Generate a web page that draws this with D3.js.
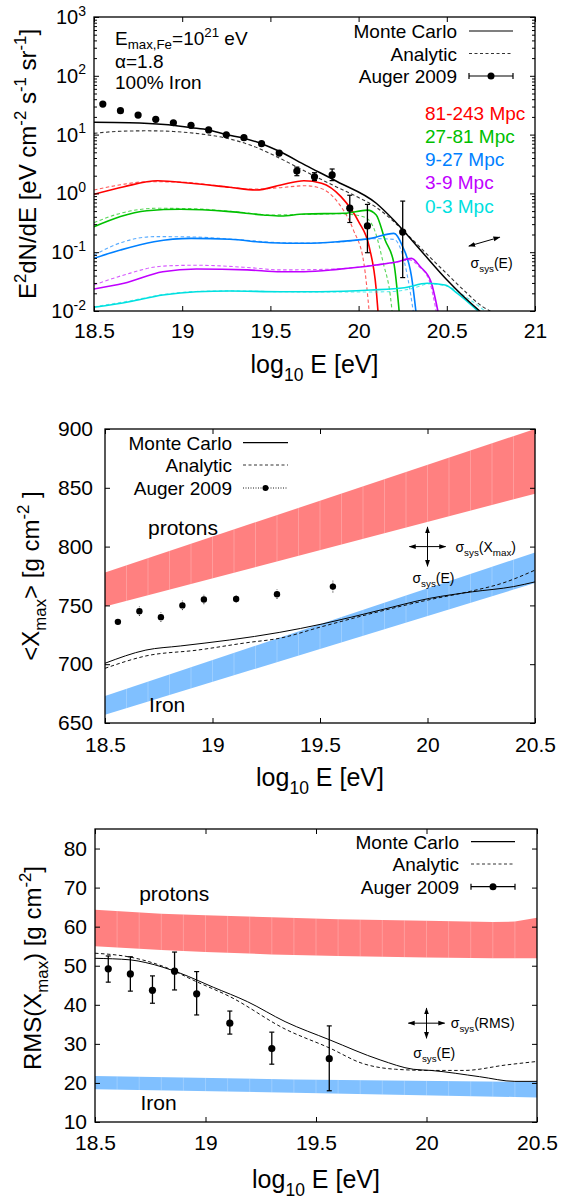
<!DOCTYPE html>
<html>
<head>
<meta charset="utf-8">
<script src="https://cdn.jsdelivr.net/npm/d3@7"></script>
<style>
  body { margin: 0; background: #fff; }
  svg text { font-family: "Liberation Sans", Arial, Helvetica, sans-serif; white-space: pre; fill: #000; }
</style>
</head>
<body>
<svg id="chart" width="561" height="1201"></svg>
<script>
// ===================== spectrum panel =====================
const specTicksX = [18.5, 19, 19.5, 20, 20.5, 21];
const specDecades = [-2, -1, 0, 1, 2, 3];

// Auger 2009 spectrum points
const augerSpecE  = [18.55, 18.65, 18.75, 18.85, 18.95, 19.05, 19.15, 19.25, 19.35, 19.45, 19.55, 19.65, 19.75, 19.85, 19.95, 20.05, 20.25];
const augerSpecF  = [33.1, 25.5, 21.5, 18.2, 15.9, 14.4, 12.0, 9.95, 8.85, 7.0, 4.86, 2.40, 1.92, 2.06, 0.56, 0.28, 0.22];
const augerSpecLo = [32.0, 24.7, 20.9, 17.7, 15.4, 13.9, 11.6, 9.6, 8.5, 6.7, 4.6, 2.0, 1.65, 1.65, 0.32, 0.098, 0.037];
const augerSpecHi = [34.2, 26.3, 22.1, 18.7, 16.4, 14.9, 12.4, 10.3, 9.2, 7.3, 5.1, 2.8, 2.25, 2.6, 0.93, 0.65, 0.74];

// total flux
const totalMcE = [18.5, 18.7, 18.9, 19.05, 19.15, 19.25, 19.35, 19.45, 19.55, 19.7, 19.88, 20.1, 20.2, 20.35, 20.5, 20.58, 20.69];
const totalMcF = [16.2, 15.9, 14.8, 13.1, 12.0, 10.0, 8.7, 7.0, 5.2, 3.0, 1.58, 0.68, 0.35, 0.109, 0.034, 0.0195, 0.0098];
const totalAnE = [18.5, 18.65, 18.8, 18.95, 19.1, 19.25, 19.4, 19.55, 19.7, 19.85, 20.0, 20.1, 20.2, 20.3, 20.4, 20.5, 20.6, 20.7, 20.76];
const totalAnF = [10.5, 11.4, 11.6, 11.3, 10.3, 8.7, 6.4, 4.0, 2.35, 1.4, 0.85, 0.58, 0.33, 0.17, 0.085, 0.043, 0.022, 0.012, 0.0095];

// distance bins
const binNames  = ["81-243 Mpc", "27-81 Mpc", "9-27 Mpc", "3-9 Mpc", "0-3 Mpc"];
const binColors = ["#ff0000", "#00c000", "#0080ff", "#c000ff", "#00e0e0"];

const d81McE = [18.5, 18.67, 18.86, 19.05, 19.27, 19.42, 19.56, 19.69, 19.79, 19.9, 20.0, 20.06, 20.1, 20.11];
const d81McF = [0.966, 1.30, 1.64, 1.49, 1.27, 1.14, 1.39, 1.64, 1.49, 0.88, 0.33, 0.124, 0.023, 0.0098];
const d81AnE = [18.5, 18.65, 18.8, 19.0, 19.2, 19.4, 19.55, 19.7, 19.78, 19.88, 19.97, 20.03, 20.06];
const d81AnF = [1.14, 1.40, 1.58, 1.55, 1.35, 1.18, 1.25, 1.35, 1.24, 0.72, 0.24, 0.065, 0.0098];

const d27McE = [18.5, 18.8, 18.99, 19.27, 19.46, 19.56, 19.69, 19.92, 20.05, 20.1, 20.15, 20.2, 20.23];
const d27McF = [0.272, 0.508, 0.537, 0.489, 0.43, 0.413, 0.447, 0.46, 0.52, 0.43, 0.161, 0.065, 0.0098];
const d27AnE = [18.5, 18.65, 18.86, 19.05, 19.3, 19.5, 19.7, 19.9, 20.0, 20.05, 20.09, 20.14, 20.18, 20.19];
const d27AnF = [0.318, 0.459, 0.558, 0.55, 0.49, 0.43, 0.44, 0.45, 0.42, 0.37, 0.24, 0.065, 0.018, 0.0098];

const d9McE = [18.5, 18.65, 18.84, 19.05, 19.27, 19.5, 19.69, 19.88, 20.07, 20.2, 20.25, 20.3, 20.325];
const d9McF = [0.0787, 0.109, 0.151, 0.172, 0.166, 0.145, 0.142, 0.151, 0.172, 0.209, 0.124, 0.0384, 0.0098];
const d9AnE = [18.5, 18.67, 18.84, 19.05, 19.3, 19.5, 19.7, 19.9, 20.1, 20.2, 20.24, 20.28, 20.31];
const d9AnF = [0.0895, 0.151, 0.184, 0.182, 0.165, 0.148, 0.143, 0.15, 0.17, 0.165, 0.11, 0.035, 0.0098];

const d3McE = [18.5, 18.67, 18.89, 19.08, 19.37, 19.56, 19.69, 19.88, 20.1, 20.22, 20.3, 20.35, 20.41, 20.45];
const d3McF = [0.0237, 0.0296, 0.0466, 0.0518, 0.05, 0.0466, 0.0466, 0.051, 0.0605, 0.069, 0.0785, 0.0566, 0.0316, 0.0098];
const d3AnE = [18.5, 18.67, 18.89, 19.08, 19.37, 19.56, 19.88, 20.1, 20.22, 20.29, 20.34, 20.4, 20.44];
const d3AnF = [0.0277, 0.041, 0.058, 0.06, 0.055, 0.05, 0.052, 0.061, 0.068, 0.074, 0.058, 0.033, 0.0098];

const d0McE = [18.5, 18.7, 18.89, 19.08, 19.27, 19.56, 19.78, 20.07, 20.26, 20.39, 20.49, 20.56, 20.68];
const d0McF = [0.01156, 0.0144, 0.0187, 0.0213, 0.0219, 0.0213, 0.0213, 0.0227, 0.0249, 0.0296, 0.0277, 0.02, 0.0098];
const d0AnE = [18.5, 18.7, 18.89, 19.08, 19.27, 19.56, 19.8, 20.05, 20.2, 20.3, 20.4, 20.5, 20.6, 20.72];
const d0AnF = [0.0118, 0.0148, 0.019, 0.0215, 0.022, 0.0213, 0.021, 0.021, 0.0215, 0.024, 0.029, 0.0265, 0.018, 0.0098];

// ===================== <Xmax> panel =====================
const xmaxTicksX = [18.5, 19, 19.5, 20, 20.5];
const xmaxTicksY = [650, 700, 750, 800, 850, 900];
const augerXmaxE   = [18.56, 18.66, 18.76, 18.86, 18.96, 19.11, 19.30, 19.56];
const augerXmax    = [736, 745, 740, 750, 755, 755.5, 759.5, 766];
const augerXmaxErr = [2, 4, 4, 4, 4, 3, 4, 5];
const xmaxMcE = [18.5, 18.69, 18.85, 19.08, 19.31, 19.51, 19.78, 20.01, 20.21, 20.4, 20.5];
const xmaxMc  = [700.8, 712, 715.5, 720.6, 727, 734.2, 746, 756, 761.6, 766, 770];
const xmaxAnE = [18.5, 18.69, 18.93, 19.16, 19.31, 19.51, 19.78, 20.0, 20.2, 20.35, 20.5];
const xmaxAn  = [696.5, 707, 712, 718.3, 722, 732, 745, 754.5, 762, 769, 780];
const xmaxProtonE  = [18.5, 20.5];
const xmaxProtonLo = [749, 845];
const xmaxProtonHi = [778, 900];
const xmaxIronE  = [18.5, 20.5];
const xmaxIronLo = [657, 769];
const xmaxIronHi = [673, 795];

// ===================== RMS(Xmax) panel =====================
const rmsTicksX = [18.5, 19, 19.5, 20, 20.5];
const rmsTicksY = [10, 20, 30, 40, 50, 60, 70, 80];
const augerRmsE  = [18.56, 18.66, 18.76, 18.86, 18.96, 19.11, 19.30, 19.56];
const augerRms   = [49.2, 47.9, 43.7, 48.6, 42.8, 35.3, 28.8, 26.2];
const augerRmsLo = [45.8, 43.5, 40.4, 43.8, 37.4, 32.5, 24.8, 18.0];
const augerRmsHi = [52.5, 52.3, 47.4, 53.5, 48.5, 38.4, 33.0, 34.6];
const rmsMcE = [18.5, 18.66, 18.73, 18.885, 19.035, 19.19, 19.36, 19.563, 19.79, 19.94, 20.02, 20.24, 20.4, 20.5];
const rmsMc  = [51.9, 51.5, 50.8, 48.1, 44.5, 40.8, 35.7, 31.0, 25.9, 23.5, 23.2, 21.6, 20.4, 20.4];
const rmsAnE = [18.5, 18.66, 18.81, 18.96, 19.11, 19.36, 19.563, 19.71, 19.86, 20.02, 20.17, 20.36, 20.5];
const rmsAn  = [53.2, 52.2, 49.8, 45.9, 42.1, 33.8, 28.9, 25.0, 23.5, 23.2, 23.2, 24.6, 25.5];
const rmsProtonE  = [18.5, 18.8, 19.0, 19.3, 19.6, 20.0, 20.3, 20.4, 20.5];
const rmsProtonLo = [55.0, 54.0, 53.5, 52.9, 52.5, 52.1, 51.9, 51.9, 51.9];
const rmsProtonHi = [64.3, 63.3, 62.9, 62.4, 61.9, 61.5, 61.2, 61.3, 62.3];
const rmsIronE  = [18.5, 19.4, 20.4, 20.5];
const rmsIronLo = [18.4, 17.5, 16.4, 16.3];
const rmsIronHi = [21.8, 20.9, 20.3, 20.3];

// ------------------------------------------------------------
const svg = d3.select("#chart");
svg.append("rect").attr("width", 561).attr("height", 1201).attr("fill", "#fff");
const defs = svg.append("defs");
defs.append("marker").attr("id", "arrowHead")
  .attr("viewBox", "0 0 10 10").attr("refX", 9).attr("refY", 5)
  .attr("markerWidth", 7).attr("markerHeight", 7).attr("orient", "auto-start-reverse")
  .append("path").attr("d", "M0,1.5 L10,5 L0,8.5 Z").attr("fill", "#000");

const zip = (a, b) => a.map((v, i) => [v, b[i]]);

// text with sub/superscripts
function richText(g, x, y, parts, size, anchor, rotated, subShift) {
  const t = g.append("text").attr("font-size", size).attr("text-anchor", anchor || "start");
  if (rotated) t.attr("transform", `translate(${x},${y}) rotate(-90)`);
  else t.attr("x", x).attr("y", y);
  let cur = 0;
  parts.forEach(p => {
    const [s, k] = typeof p === "string" ? [p, "n"] : p;
    const fs = k === "n" ? size : size * 0.7;
    const off = k === "sup" ? -0.42 * size : k === "sub" ? (subShift || 0.3) * size : 0;
    t.append("tspan").attr("font-size", fs).attr("dy", off - cur).text(s);
    cur = off;
  });
  return t;
}

function makeClip(id, x, y) {
  defs.append("clipPath").attr("id", id).append("rect")
    .attr("x", x.range()[0]).attr("y", y.range()[1])
    .attr("width", x.range()[1] - x.range()[0]).attr("height", y.range()[0] - y.range()[1]);
}

function styleAxis(g, size) {
  g.select(".domain").remove();
  g.selectAll(".tick line").attr("stroke", "#000").attr("stroke-width", 1);
  g.selectAll(".tick text").attr("font-size", size).attr("fill", "#000")
    .attr("font-family", "Liberation Sans, Arial, sans-serif");
}

function drawAxes(x, y, xTicks, yTicks, xPad, yPad, yFormat) {
  const [x0, x1] = x.range(), [y0, y1] = y.range();
  styleAxis(svg.append("g").attr("transform", `translate(0,${y0})`)
    .call(d3.axisBottom(x).tickValues(xTicks).tickSize(-5).tickPadding(xPad).tickFormat(d3.format("~g"))), 21);
  styleAxis(svg.append("g").attr("transform", `translate(0,${y1})`)
    .call(d3.axisTop(x).tickValues(xTicks).tickSize(-5).tickFormat("")), 21);
  if (yTicks) {
    styleAxis(svg.append("g").attr("transform", `translate(${x0},0)`)
      .call(d3.axisLeft(y).tickValues(yTicks).tickSize(-5).tickPadding(yPad).tickFormat(yFormat || d3.format("d"))), 21);
    styleAxis(svg.append("g").attr("transform", `translate(${x1},0)`)
      .call(d3.axisRight(y).tickValues(yTicks).tickSize(-5).tickFormat("")), 21);
  }
  svg.append("rect").attr("x", x0).attr("y", y1).attr("width", x1 - x0).attr("height", y0 - y1)
    .attr("fill", "none").attr("stroke", "#000").attr("stroke-width", 1.3);
}

function drawBand(id, x, y, E, lo, hi, color, clipId) {
  const area = d3.area().x(d => x(d[0])).y0(d => y(d[1])).y1(d => y(d[2]));
  const pts = E.map((e, i) => [e, lo[i], hi[i]]);
  const g = svg.append("g").attr("clip-path", `url(#${clipId})`);
  g.append("path").attr("d", area(pts)).attr("fill", color);
  defs.append("clipPath").attr("id", id).append("path").attr("d", area(pts));
  // faint seams between the filled segments
  const seams = d3.range(18.6, 20.45, 0.1);
  g.append("g").attr("clip-path", `url(#${id})`).selectAll("line").data(seams).join("line")
    .attr("x1", d => x(d)).attr("x2", d => x(d))
    .attr("y1", y.range()[1]).attr("y2", y.range()[0])
    .attr("stroke", "#fff").attr("stroke-opacity", 0.22).attr("stroke-width", 1);
}

function drawLine(g, x, y, E, V, opts) {
  const line = d3.line().x(d => x(d[0])).y(d => y(d[1])).curve(d3.curveMonotoneX);
  return g.append("path").attr("d", line(zip(E, V)))
    .attr("fill", "none").attr("stroke", opts.color)
    .attr("stroke-width", opts.width).attr("stroke-dasharray", opts.dash || null)
    .attr("stroke-opacity", opts.opacity || 1);
}

function sysCross(x, y, cx, cy, dx, dy) {
  svg.append("line").attr("x1", x(cx - dx)).attr("x2", x(cx + dx)).attr("y1", y(cy)).attr("y2", y(cy))
    .attr("stroke", "#000").attr("stroke-width", 1)
    .attr("marker-start", "url(#arrowHead)").attr("marker-end", "url(#arrowHead)");
  svg.append("line").attr("x1", x(cx)).attr("x2", x(cx)).attr("y1", y(cy - dy)).attr("y2", y(cy + dy))
    .attr("stroke", "#000").attr("stroke-width", 1)
    .attr("marker-start", "url(#arrowHead)").attr("marker-end", "url(#arrowHead)");
}

function legend(xText, xL0, xL1, ys, augerStyle, size) {
  const names = ["Monte Carlo", "Analytic", "Auger 2009"];
  names.forEach((n, i) => {
    svg.append("text").attr("x", xText).attr("y", ys[i] + 7).attr("text-anchor", "end")
      .attr("font-size", size).text(n);
  });
  svg.append("line").attr("x1", xL0).attr("x2", xL1).attr("y1", ys[0]).attr("y2", ys[0])
    .attr("stroke", "#000").attr("stroke-width", 1.2);
  svg.append("line").attr("x1", xL0).attr("x2", xL1).attr("y1", ys[1]).attr("y2", ys[1])
    .attr("stroke", "#333").attr("stroke-width", 1).attr("stroke-dasharray", "3,2.5");
  const xm = (xL0 + xL1) / 2;
  if (augerStyle === "dotted") {
    svg.append("line").attr("x1", xL0).attr("x2", xL1).attr("y1", ys[2]).attr("y2", ys[2])
      .attr("stroke", "#000").attr("stroke-width", 0.9).attr("stroke-dasharray", "1,1.5");
    svg.append("circle").attr("cx", xm).attr("cy", ys[2]).attr("r", 3).attr("fill", "#000");
  } else {
    svg.append("line").attr("x1", xL0).attr("x2", xL1).attr("y1", ys[2]).attr("y2", ys[2])
      .attr("stroke", "#000").attr("stroke-width", 1.2);
    [xL0, xL1].forEach(xx => svg.append("line").attr("x1", xx).attr("x2", xx)
      .attr("y1", ys[2] - 3).attr("y2", ys[2] + 3).attr("stroke", "#000").attr("stroke-width", 1.2));
    svg.append("circle").attr("cx", xm).attr("cy", ys[2]).attr("r", 3.5).attr("fill", "#000");
  }
}

function errorPoints(x, y, E, V, lo, hi, r, dotted) {
  const g = svg.append("g");
  E.forEach((e, i) => {
    const bar = g.append("line").attr("x1", x(e)).attr("x2", x(e)).attr("y1", y(lo[i])).attr("y2", y(hi[i]))
      .attr("stroke", "#000").attr("stroke-width", dotted ? 0.9 : 1.3);
    if (dotted) bar.attr("stroke-dasharray", "1,1.2");
    else [lo[i], hi[i]].forEach(v => g.append("line").attr("x1", x(e) - 2.5).attr("x2", x(e) + 2.5)
      .attr("y1", y(v)).attr("y2", y(v)).attr("stroke", "#000").attr("stroke-width", 1.2));
    g.append("circle").attr("cx", x(e)).attr("cy", y(V[i])).attr("r", r).attr("fill", "#000");
  });
}

const xTitle = ["log", ["10", "sub"], " E [eV]"];

// ===================== spectrum panel =====================
{
  const x = d3.scaleLinear().domain([18.5, 21]).range([94, 535]);
  const y = d3.scaleLog().domain([1e-2, 1e3]).range([311, 17]);
  makeClip("clipSpec", x, y);
  const g = svg.append("g").attr("clip-path", "url(#clipSpec)");

  const bins = [
    [d81McE, d81McF, d81AnE, d81AnF],
    [d27McE, d27McF, d27AnE, d27AnF],
    [d9McE, d9McF, d9AnE, d9AnF],
    [d3McE, d3McF, d3AnE, d3AnF],
    [d0McE, d0McF, d0AnE, d0AnF]
  ];
  bins.forEach((b, i) => {
    drawLine(g, x, y, b[2], b[3], { color: binColors[i], width: 1.1, dash: "3.5,2.5", opacity: 0.65 });
    drawLine(g, x, y, b[0], b[1], { color: binColors[i], width: 1.6 });
  });
  drawLine(g, x, y, totalAnE, totalAnF, { color: "#333", width: 1.1, dash: "3.5,2.5" });
  drawLine(g, x, y, totalMcE, totalMcF, { color: "#000", width: 1.5 });

  errorPoints(x, y, augerSpecE, augerSpecF, augerSpecLo, augerSpecHi, 3.6, false);

  // axes: x and log-scaled y with minor ticks
  const [x0, x1] = x.range();
  const minor = [];
  specDecades.slice(0, -1).forEach(d => { for (let m = 2; m <= 9; m++) minor.push(m * Math.pow(10, d)); });
  const majors = specDecades.map(d => Math.pow(10, d));
  [[d3.axisLeft, x0], [d3.axisRight, x1]].forEach(([ax, pos]) => {
    styleAxis(svg.append("g").attr("transform", `translate(${pos},0)`)
      .call(ax(y).tickValues(minor).tickSize(-3).tickFormat("")), 21);
    styleAxis(svg.append("g").attr("transform", `translate(${pos},0)`)
      .call(ax(y).tickValues(majors).tickSize(-5).tickFormat("")), 21);
  });
  drawAxes(x, y, specTicksX, null, 12);
  specDecades.forEach(d => {
    richText(svg, x0 - 8, y(Math.pow(10, d)) + 7, ["10", [String(d), "sup"]], 20, "end");
  });

  richText(svg, 36, (y.range()[0] + y.range()[1]) / 2,
    ["E", ["2", "sup"], "dN/dE [eV cm", ["-2", "sup"], " s", ["-1", "sup"], " sr", ["-1", "sup"], "]"], 24, "middle", true);
  richText(svg, (x0 + x1) / 2, 373, xTitle, 25, "middle");

  // annotations
  richText(svg, 115, 45, ["E", ["max,Fe", "sub"], "=10", ["21", "sup"], " eV"], 19, "start", false, 0.22);
  svg.append("text").attr("x", 115).attr("y", 67.5).attr("font-size", 19).text("α=1.8");
  svg.append("text").attr("x", 115).attr("y", 88.5).attr("font-size", 19).text("100% Iron");
  binNames.forEach((n, i) => {
    svg.append("text").attr("x", 425).attr("y", 119.5 + 23.3 * i).attr("font-size", 19)
      .style("fill", binColors[i]).text(n);
  });
  legend(457, 469, 513, [31, 53.5, 76], "bars", 19);

  svg.append("line").attr("x1", x(20.625)).attr("y1", y(0.127)).attr("x2", x(20.80)).attr("y2", y(0.18))
    .attr("stroke", "#000").attr("stroke-width", 1)
    .attr("marker-start", "url(#arrowHead)").attr("marker-end", "url(#arrowHead)");
  richText(svg, x(20.635), y(0.054), ["σ", ["sys", "sub"], "(E)"], 14, "start");
}

// ===================== <Xmax> panel =====================
{
  const x = d3.scaleLinear().domain([18.5, 20.5]).range([105, 535]);
  const y = d3.scaleLinear().domain([650, 900]).range([723, 429]);
  makeClip("clipXmax", x, y);
  drawBand("bandXmaxP", x, y, xmaxProtonE, xmaxProtonLo, xmaxProtonHi, "#ff8080", "clipXmax");
  drawBand("bandXmaxFe", x, y, xmaxIronE, xmaxIronLo, xmaxIronHi, "#80c0ff", "clipXmax");
  const g = svg.append("g").attr("clip-path", "url(#clipXmax)");
  drawLine(g, x, y, xmaxAnE, xmaxAn, { color: "#111", width: 1, dash: "3.5,2.5" });
  drawLine(g, x, y, xmaxMcE, xmaxMc, { color: "#000", width: 1 });
  errorPoints(x, y, augerXmaxE, augerXmax,
    augerXmax.map((v, i) => v - augerXmaxErr[i]), augerXmax.map((v, i) => v + augerXmaxErr[i]), 3.2, true);

  drawAxes(x, y, xmaxTicksX, xmaxTicksY, 14, 12);
  richText(svg, 39, (y.range()[0] + y.range()[1]) / 2,
    ["<X", ["max", "sub"], "> [g cm", ["-2", "sup"], " ]"], 24, "middle", true);
  richText(svg, (x.range()[0] + x.range()[1]) / 2, 786, xTitle, 25, "middle");

  legend(232, 243, 288, [442.7, 465, 488], "dotted", 19);
  svg.append("text").attr("x", x(18.70)).attr("y", y(810)).attr("font-size", 21).text("protons");
  svg.append("text").attr("x", x(18.705)).attr("y", y(659)).attr("font-size", 21).text("Iron");

  sysCross(x, y, 20.0, 800, 0.084, 16.7);
  richText(svg, x(20.13), y(800) + 5, ["σ", ["sys", "sub"], "(X", ["max", "sub"], ")"], 14, "start");
  richText(svg, x(19.93), y(769), ["σ", ["sys", "sub"], "(E)"], 14, "start");
}

// ===================== RMS(Xmax) panel =====================
{
  const x = d3.scaleLinear().domain([18.5, 20.5]).range([95, 537]);
  const y = d3.scaleLinear().domain([10, 85]).range([1122, 829]);
  makeClip("clipRms", x, y);
  drawBand("bandRmsP", x, y, rmsProtonE, rmsProtonLo, rmsProtonHi, "#ff8080", "clipRms");
  drawBand("bandRmsFe", x, y, rmsIronE, rmsIronLo, rmsIronHi, "#80c0ff", "clipRms");
  const g = svg.append("g").attr("clip-path", "url(#clipRms)");
  drawLine(g, x, y, rmsAnE, rmsAn, { color: "#111", width: 1, dash: "3.5,2.5" });
  drawLine(g, x, y, rmsMcE, rmsMc, { color: "#000", width: 1 });
  errorPoints(x, y, augerRmsE, augerRms, augerRmsLo, augerRmsHi, 3.6, false);

  drawAxes(x, y, rmsTicksX, rmsTicksY, 13, 8);
  richText(svg, 41, 968, ["RMS(X", ["max", "sub"], ") [g cm", ["-2", "sup"], "]"], 24, "middle", true);
  richText(svg, (x.range()[0] + x.range()[1]) / 2, 1188, xTitle, 25, "middle");

  legend(459, 471, 515, [841.7, 864, 886.7], "bars", 19);
  svg.append("text").attr("x", x(18.70)).attr("y", y(66.6)).attr("font-size", 21).text("protons");
  svg.append("text").attr("x", x(18.706)).attr("y", y(13.1)).attr("font-size", 21).text("Iron");

  sysCross(x, y, 20.0, 35.3, 0.082, 3.85);
  richText(svg, x(20.11), y(35.3) + 5, ["σ", ["sys", "sub"], "(RMS)"], 14, "start");
  richText(svg, x(19.94), y(26.4), ["σ", ["sys", "sub"], "(E)"], 14, "start");
}
</script>
</body>
</html>
